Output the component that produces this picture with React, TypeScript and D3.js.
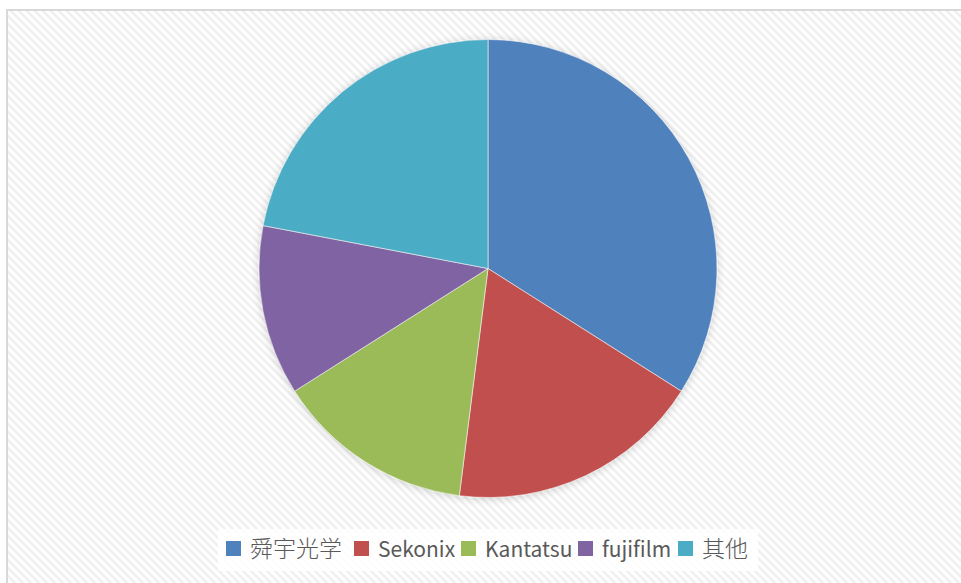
import React from "react";
import * as d3 from "d3";

const categories = ["舜宇光学", "Sekonix", "Kantatsu", "fujifilm", "其他"];
const shares = [34, 18, 14, 12, 22];
const colors = ["#4F81BD", "#C0504D", "#9BBB59", "#8064A2", "#4BACC6"];

const W = 961;
const H = 583;
const cx = 488;
const cy = 268.5;
const R = 229;

const legendX = [226, 354, 461, 578, 678];

export default function App() {
  const pie = d3.pie<number>().sort(null).value((d) => d)(shares);
  const arc = d3.arc<d3.PieArcDatum<number>>().innerRadius(0).outerRadius(R);
  const font = "'Microsoft YaHei', 'Noto Sans CJK SC', 'Open Sans', sans-serif";
  const isCJK = (s: string) => /[\u4e00-\u9fff]/.test(s);
  return (
    <svg width={W} height={H} style={{ position: "absolute", left: 0, top: 0 }}>
      <defs>
        <pattern id="hatch" width="8" height="8" patternUnits="userSpaceOnUse">
          <rect width="8" height="8" fill="#ffffff" />
          <path d="M-2,-2 L10,10 M-2,6 L2,10 M6,-2 L10,2" stroke="#f0f0f0" strokeWidth="2.6" />
        </pattern>
        <filter id="shadow" x="-10%" y="-10%" width="120%" height="120%">
          <feGaussianBlur in="SourceAlpha" stdDeviation="4" />
          <feOffset dx="0" dy="1" result="b" />
          <feComponentTransfer>
            <feFuncA type="linear" slope="0.18" />
          </feComponentTransfer>
          <feMerge>
            <feMergeNode />
            <feMergeNode in="SourceGraphic" />
          </feMerge>
        </filter>
      </defs>
      <rect width={W} height={H} fill="#ffffff" />
      <rect x={7} y={10} width={W + 10} height={H + 10} fill="url(#hatch)" stroke="#d9d9d9" strokeWidth={2} />
      <g transform={`translate(${cx},${cy})`} filter="url(#shadow)">
        {pie.map((p, i) => (
          <path key={categories[i]} d={arc(p) || ""} fill={colors[i]} stroke="#f4f4f4" strokeWidth={0.6} />
        ))}
      </g>
      <rect x={218} y={529} width={540} height={42} fill="#ffffff" opacity={0.85} />
      {categories.map((c, i) => (
        <g key={c}>
          <rect x={legendX[i]} y={541} width={15} height={15} fill={colors[i]} />
          <text
            x={legendX[i] + 24}
            y={557}
            fontFamily={font}
            fontSize={isCJK(c) ? 23 : 21}
            fontWeight={isCJK(c) ? 300 : 400}
            fill="#595959"
          >
            {c}
          </text>
        </g>
      ))}
    </svg>
  );
}
